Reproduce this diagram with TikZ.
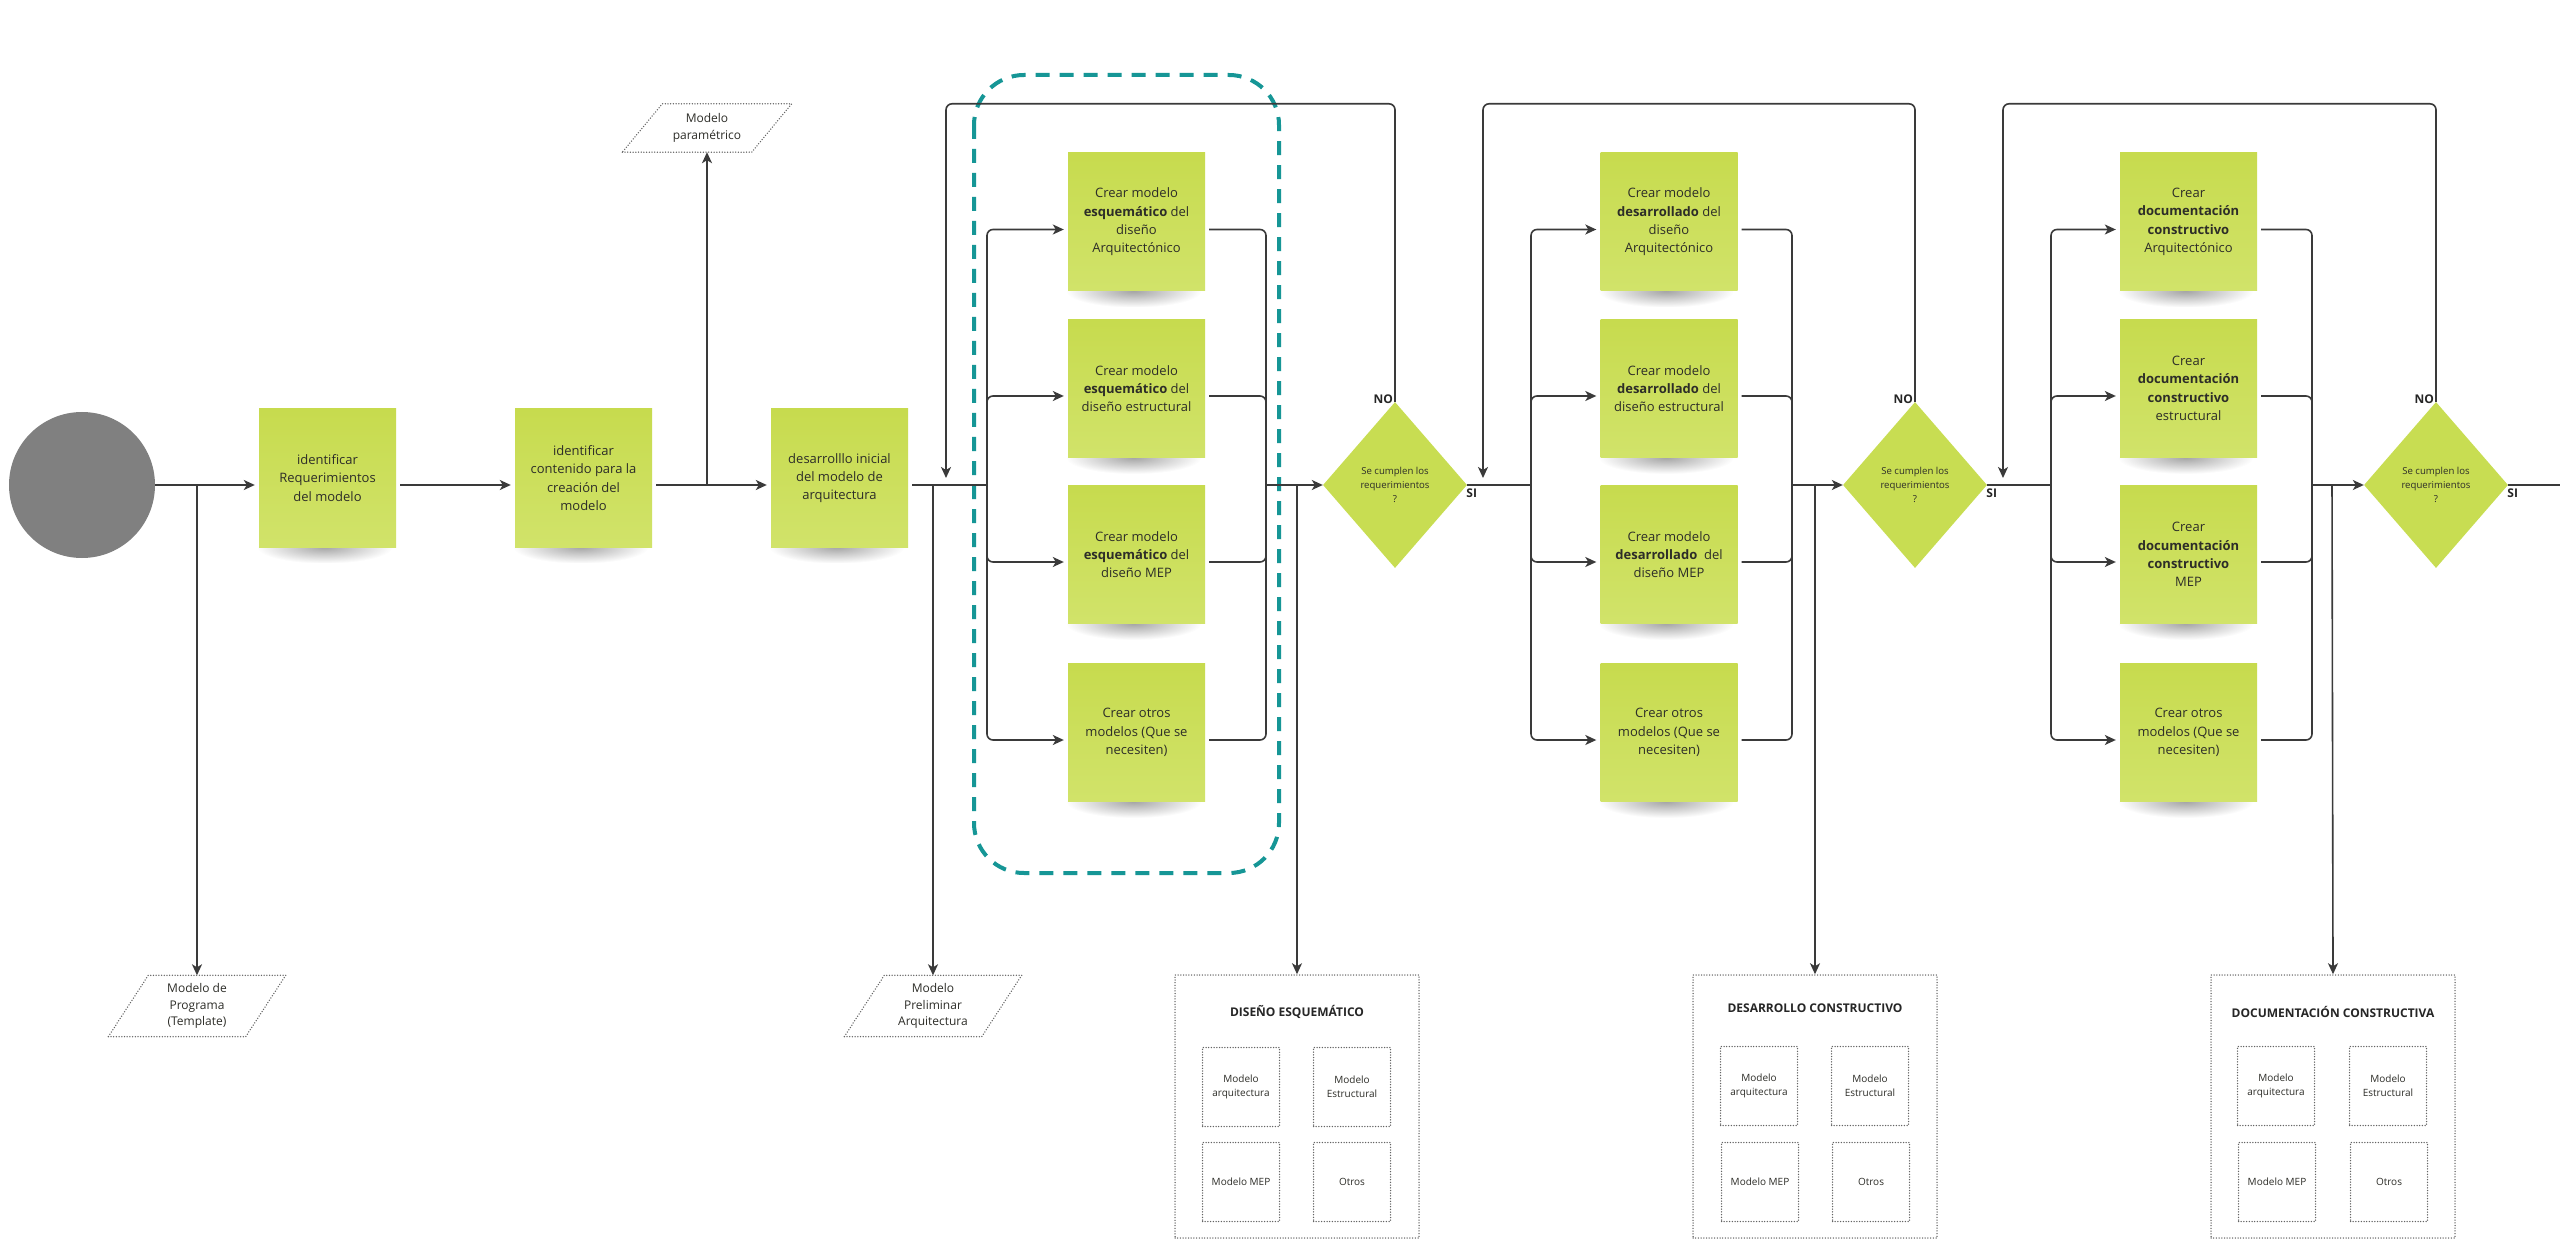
\documentclass[tikz,border=0pt]{standalone}
\usepackage{fontspec}
\setmainfont{Open Sans}
\usetikzlibrary{arrows.meta,shapes.geometric,fadings,backgrounds}

\definecolor{stickytop}{RGB}{199,219,78}
\definecolor{stickybot}{RGB}{209,227,106}
\definecolor{decgreen}{RGB}{200,221,82}
\definecolor{linegray}{RGB}{58,58,58}
\definecolor{txt}{RGB}{45,45,40}
\definecolor{teal1}{RGB}{22,150,150}
\definecolor{dotgray}{RGB}{100,100,100}
\definecolor{startgray}{RGB}{128,128,128}

\tikzfading[name=shfade, inner color=transparent!0, outer color=transparent!100]

\begin{document}
\begin{tikzpicture}[x=1pt,y=-1pt,
  sticky/.style={rectangle, top color=stickytop, bottom color=stickybot, draw=none,
    minimum width=137pt, minimum height=138pt, inner sep=0pt, align=center, text=txt,
    font=\fontsize{13}{18.3}\selectfont},
  dec/.style={diamond, fill=decgreen, minimum width=144pt, minimum height=166pt, inner sep=0pt,
    aspect=0.87, align=center, text=txt, font=\fontsize{9.6}{14}\selectfont},
  ln/.style={draw=linegray, line width=1.6pt},
  arr/.style={ln, -{Stealth[length=11pt,width=10pt,inset=3pt]}},
  arrs/.style={arr, shorten >=4pt},
  ptext/.style={rectangle, inner sep=0pt, minimum width=137pt, minimum height=61pt, align=center,
    text=txt, font=\fontsize{12}{16.7}\selectfont},
  pbord/.style={draw=dotgray, line width=1.5pt, line cap=round, dash pattern=on 0pt off 2.7pt},
  obox/.style={rectangle, pbord, minimum width=244pt, minimum height=263pt, inner sep=0pt},
  ibox/.style={rectangle, pbord, minimum width=77pt, minimum height=79pt, inner sep=0pt,
    align=center, text=txt, font=\fontsize{10}{14}\selectfont},
  otitle/.style={font=\bfseries\fontsize{12}{14}\selectfont, text=black!85, inner sep=0pt},
  lbl/.style={font=\bfseries\fontsize{12}{14}\selectfont, text=black!85, inner sep=0pt},
  grp/.style={draw=teal1, line width=4pt, dash pattern=on 14pt off 10pt, rounded corners=50pt}
]
\useasboundingbox (0,0) rectangle (2560,1246);

% ---------- start and first steps ----------
\node[circle, fill=startgray, minimum size=146pt, inner sep=0pt] (st) at (82,485) {};
\node[sticky] (s1) at (327.5,478) {identificar\\Requerimientos\\del modelo};
\node[sticky] (s2) at (583.5,478) {identificar\\contenido para la\\creación del\\modelo};
\node[sticky] (s3) at (839.5,478) {desarrolllo inicial\\del modelo de\\arquitectura};

\node[ptext] (p1) at (197,1006) {Modelo de\\Programa\\(Template)};
\node[ptext, minimum width=129pt, minimum height=48pt] (p2) at (707,128) {Modelo\\paramétrico};
\node[ptext] (p3) at (933,1006) {Modelo\\Preliminar\\Arquitectura};
\foreach \p in {p1,p2,p3}
  \draw[pbord] ([xshift=-20pt]\p.south west) -- ([xshift=-20pt]\p.south east)
     -- ([xshift=20pt]\p.north east) -- ([xshift=20pt]\p.north west) -- cycle;

\draw[arrs] (st.east) -- ([yshift=-7pt]s1.west);
\coordinate (j1) at (197,485);
\draw[arr] (j1) -- (p1.north);
\draw[arrs] ([xshift=4pt,yshift=-7pt]s1.east) -- ([yshift=-7pt]s2.west);
\coordinate (j2) at (707,485);
\draw[arr] (j2) -- (p2.south);
\draw[arrs] ([xshift=4pt,yshift=-7pt]s2.east) -- ([yshift=-7pt]s3.west);

% ---------- section 1 ----------
\draw[grp] (974,75) rectangle (1279,873);
\node[sticky] (a1) at (1136.5,222) {Crear modelo\\{\bfseries esquemático} del\\diseño\\Arquitectónico};
\node[sticky] (a2) at (1136.5,388.5) {Crear modelo\\{\bfseries esquemático} del\\diseño estructural};
\node[sticky] (a3) at (1136.5,554.5) {Crear modelo\\{\bfseries esquemático} del\\diseño MEP};
\node[sticky] (a4) at (1136.5,732.5) {Crear otros\\modelos (Que se\\necesiten)};
\node[dec] (d1) at (1395,485) {Se cumplen los\\requerimientos\\?};

\coordinate (f1) at (987,485);
\draw[ln] ([xshift=4pt,yshift=-7pt]s3.east) -- (f1);
\coordinate (j3) at (933,485);
\draw[arr] (j3) -- (p3.north);
\foreach \b in {a1,a2,a3,a4}
  \draw[arrs, rounded corners=6pt] (f1) |- ([yshift=-7.5pt]\b.west);
\coordinate (m1) at (1266,485);
\foreach \b in {a1,a2,a3,a4}
  \draw[ln, rounded corners=6pt] ([xshift=4pt,yshift=-7.5pt]\b.east) -| (m1);
\draw[arr] (m1) -- (d1.west);
\coordinate (r1) at (946,478);
\draw[arr, rounded corners=6pt] (d1.north) -- ++(0,-298) -| (r1);
\node[lbl, anchor=east] at ([xshift=-2pt,yshift=3pt]d1.north) {NO};
\node[lbl, anchor=north west] at ([xshift=-1pt,yshift=-4pt]d1.east) {SI};

\node[obox] (o1) at (1297,1106.5) {};
\node[otitle] (o1t) at (1297,1012) {DISEÑO ESQUEMÁTICO};
\node[ibox] (o1a) at (1241,1087) {Modelo\\arquitectura};
\node[ibox] (o1b) at (1352,1087) {Modelo\\Estructural};
\node[ibox] (o1c) at (1241,1182) {Modelo MEP};
\node[ibox] (o1d) at (1352,1182) {Otros};
\coordinate (j4) at (1297,485);
\draw[arr] (j4) -- (o1.north);

% ---------- section 2 ----------
\node[sticky] (b1) at (1669,222) {Crear modelo\\{\bfseries desarrollado} del\\diseño\\Arquitectónico};
\node[sticky] (b2) at (1669,388.5) {Crear modelo\\{\bfseries desarrollado} del\\diseño estructural};
\node[sticky] (b3) at (1669,554.5) {Crear modelo\\{\bfseries desarrollado}\ \ del\\diseño MEP};
\node[sticky] (b4) at (1669,732.5) {Crear otros\\modelos (Que se\\necesiten)};
\node[dec] (d2) at (1915,485) {Se cumplen los\\requerimientos\\?};

\coordinate (f2) at (1531,485);
\draw[ln] (d1.east) -- (f2);
\foreach \b in {b1,b2,b3,b4}
  \draw[arrs, rounded corners=6pt] (f2) |- ([yshift=-7.5pt]\b.west);
\coordinate (m2) at (1792,485);
\foreach \b in {b1,b2,b3,b4}
  \draw[ln, rounded corners=6pt] ([xshift=4pt,yshift=-7.5pt]\b.east) -| (m2);
\draw[arr] (m2) -- (d2.west);
\coordinate (r2) at (1483,478);
\draw[arr, rounded corners=6pt] (d2.north) -- ++(0,-298) -| (r2);
\node[lbl, anchor=east] at ([xshift=-2pt,yshift=3pt]d2.north) {NO};
\node[lbl, anchor=north west] at ([xshift=-1pt,yshift=-4pt]d2.east) {SI};

\node[obox] (o2) at (1815,1106.5) {};
\node[otitle] (o2t) at (1815,1008) {DESARROLLO CONSTRUCTIVO};
\node[ibox] (o2a) at (1759,1086) {Modelo\\arquitectura};
\node[ibox] (o2b) at (1870,1086) {Modelo\\Estructural};
\node[ibox] (o2c) at (1760,1182) {Modelo MEP};
\node[ibox] (o2d) at (1871,1182) {Otros};
\coordinate (j5) at (1815,485);
\draw[arr] (j5) -- (o2.north);

% ---------- section 3 ----------
\node[sticky] (c1) at (2188.5,222) {Crear\\{\bfseries documentación}\\{\bfseries constructivo}\\Arquitectónico};
\node[sticky] (c2) at (2188.5,388.5) {Crear\\{\bfseries documentación}\\{\bfseries constructivo}\\estructural};
\node[sticky] (c3) at (2188.5,554.5) {Crear\\{\bfseries documentación}\\{\bfseries constructivo}\\MEP};
\node[sticky] (c4) at (2188.5,732.5) {Crear otros\\modelos (Que se\\necesiten)};
\node[dec] (d3) at (2436,485) {Se cumplen los\\requerimientos\\?};

\coordinate (f3) at (2051,485);
\draw[ln] (d2.east) -- (f3);
\foreach \b in {c1,c2,c3,c4}
  \draw[arrs, rounded corners=6pt] (f3) |- ([yshift=-7.5pt]\b.west);
\coordinate (m3) at (2312,485);
\foreach \b in {c1,c2,c3,c4}
  \draw[ln, rounded corners=6pt] ([xshift=4pt,yshift=-7.5pt]\b.east) -| (m3);
\draw[arr] (m3) -- (d3.west);
\coordinate (r3) at (2003,478);
\draw[arr, rounded corners=6pt] (d3.north) -- ++(0,-298) -| (r3);
\node[lbl, anchor=east] at ([xshift=-2pt,yshift=3pt]d3.north) {NO};
\node[lbl, anchor=north west] at ([xshift=-1pt,yshift=-4pt]d3.east) {SI};
\coordinate (endpt) at (2560,485);
\draw[ln] (d3.east) -- (endpt);

\node[obox] (o3) at (2333,1106.5) {};
\node[otitle] (o3t) at (2333,1012) {DOCUMENTACIÓN CONSTRUCTIVA};
\node[ibox] (o3a) at (2276,1086) {Modelo\\arquitectura};
\node[ibox] (o3b) at (2388,1086) {Modelo\\Estructural};
\node[ibox] (o3c) at (2277,1182) {Modelo MEP};
\node[ibox] (o3d) at (2389,1182) {Otros};
\coordinate (j6) at (2332,485);
\draw[arr] (j6) -- (o3.north);

% ---------- background and sticky shadows ----------
\begin{scope}[on background layer]
  \fill[white] (0,0) rectangle (2560,1246);
  \foreach \n in {s1,s2,s3,a1,a2,a3,a4,b1,b2,b3,b4,c1,c2,c3,c4}
    \fill[black!70, opacity=0.5, path fading=shfade]
      ([xshift=-70pt,yshift=16pt]\n.south) rectangle ([xshift=64pt,yshift=-16pt]\n.south);
\end{scope}
\end{tikzpicture}
\end{document}
